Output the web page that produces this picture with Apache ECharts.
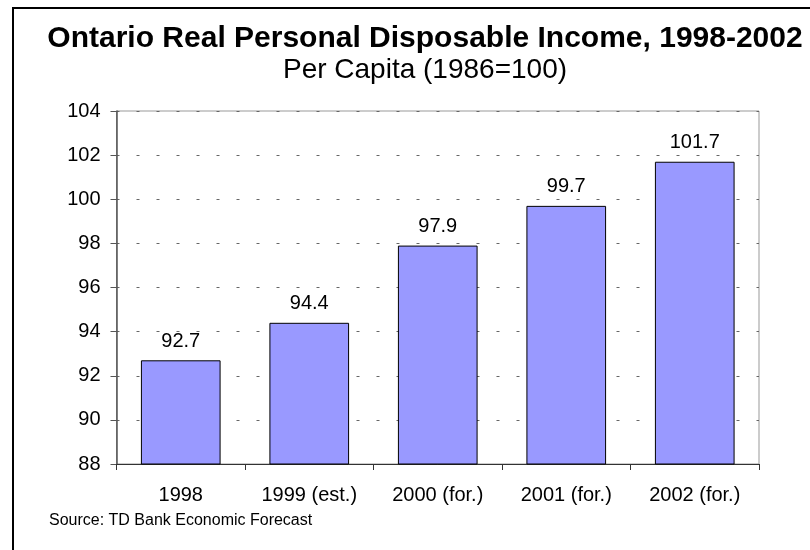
<!DOCTYPE html>
<html><head><meta charset="utf-8">
<script src="https://cdn.jsdelivr.net/npm/echarts@6/dist/echarts.min.js"></script>
<style>html,body{margin:0;padding:0;background:#fff}#c{width:810px;height:550px}</style>
</head><body><div id="c"></div>
<script>
const categories = ['1998', '1999 (est.)', '2000 (for.)', '2001 (for.)', '2002 (for.)'];
const values = [92.7, 94.4, 97.9, 99.7, 101.7];
const yMin = 88, yMax = 104, yStep = 2;
const titleText = 'Ontario Real Personal Disposable Income, 1998-2002';
const subtitleText = 'Per Capita (1986=100)';
const sourceText = 'Source: TD Bank Economic Forecast';

const FONT = '"Liberation Sans", Arial, sans-serif';
const chart = echarts.init(document.getElementById('c'), null, {renderer: 'canvas'});
chart.setOption({
  animation: false,
  backgroundColor: '#fff',
  graphic: [
    {type: 'rect', shape: {x: 13, y: 8, width: 900, height: 700}, style: {fill: 'none', stroke: '#000', lineWidth: 2}, silent: true},
    {type: 'text', style: {text: titleText, x: 425, y: 39, align: 'center', verticalAlign: 'middle', font: 'bold 30px ' + FONT, fill: '#000'}},
    {type: 'text', style: {text: subtitleText, x: 425, y: 70, align: 'center', verticalAlign: 'middle', font: '28px ' + FONT, fill: '#000'}},
    {type: 'text', style: {text: sourceText, x: 49, y: 521, align: 'left', verticalAlign: 'middle', font: '16px ' + FONT, fill: '#000'}},
    {type: 'rect', shape: {x: 116.5, y: 111, width: 642.5, height: 353}, style: {fill: 'none', stroke: '#999', lineWidth: 1}, silent: true, z: 0}
  ],
  grid: {left: 116.5, right: 51, top: 111, bottom: 86, containLabel: false},
  xAxis: {
    type: 'category', data: categories,
    axisLine: {lineStyle: {color: '#333', width: 1}},
    axisTick: {show: true, length: 6, alignWithLabel: false, lineStyle: {color: '#333'}},
    axisLabel: {color: '#000', fontSize: 20, fontFamily: FONT, margin: 21}
  },
  yAxis: {
    type: 'value', min: yMin, max: yMax, interval: yStep,
    axisLine: {show: true, lineStyle: {color: '#555', width: 1.5}},
    axisTick: {show: true, length: 6, lineStyle: {color: '#555'}},
    axisLabel: {color: '#000', fontSize: 20, fontFamily: FONT, margin: 16},
    splitLine: {show: true, lineStyle: {color: '#666', type: [3, 17], width: 1}}
  },
  series: [{
    type: 'bar', data: values, barWidth: '62%',
    itemStyle: {color: '#9999FF', borderColor: '#000', borderWidth: 1},
    label: {show: true, position: 'top', distance: 9, color: '#000', fontSize: 20, fontFamily: FONT}
  }]
});
</script></body></html>
